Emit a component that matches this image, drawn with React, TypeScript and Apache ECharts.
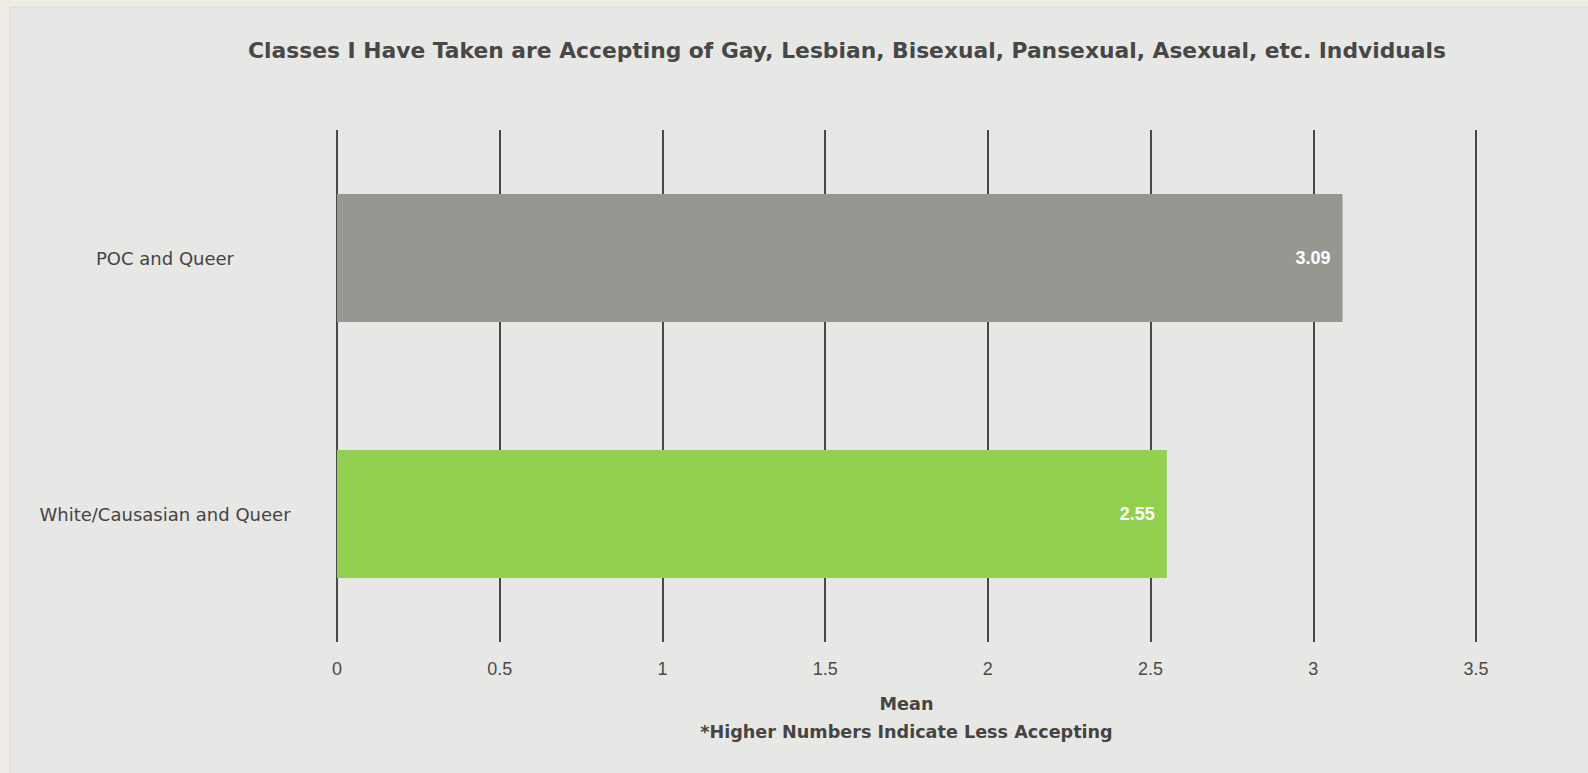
import React, { useEffect, useRef } from "react";
import * as echarts from "echarts";

const TITLE = "Classes I Have Taken are Accepting of Gay, Lesbian, Bisexual, Pansexual, Asexual, etc. Indviduals";
const categories = ["POC and Queer", "White/Causasian and Queer"];
const meanValues = [3.09, 2.55];
const barColors = ["#979792", "#92d050"];
const xTicks = { min: 0, max: 3.5, interval: 0.5 };
const axisName = "Mean\n*Higher Numbers Indicate Less Accepting";

export default function App() {
  const ref = useRef<HTMLDivElement>(null);
  useEffect(() => {
    document.body.style.margin = "0";
    document.body.style.overflow = "hidden";
    const chart = echarts.init(ref.current!, null, { renderer: "svg" });
    chart.setOption({
      animation: false,
      backgroundColor: "#efece5",
      graphic: [
        {
          type: "rect",
          z: -10,
          shape: { x: 10, y: 7, width: 1600, height: 800 },
          style: { fill: "#e7e7e5", stroke: "#d9d9d6", lineWidth: 1 },
        },
      ],
      title: {
        text: TITLE,
        left: 842,
        textAlign: "center",
        top: 34,
        textStyle: {
          fontFamily: "DejaVu Sans",
          fontWeight: "bold",
          fontSize: 21.8,
          color: "#474747",
        },
      },
      grid: { left: 337, right: 112, top: 130, bottom: 131, containLabel: false },
      xAxis: {
        type: "value",
        min: xTicks.min,
        max: xTicks.max,
        interval: xTicks.interval,
        axisLine: { show: false },
        axisTick: { show: false },
        splitLine: { show: true, lineStyle: { color: "#484848", width: 2 } },
        axisLabel: {
          margin: 18,
          fontFamily: "Liberation Sans",
          fontSize: 18,
          color: "#4a4a4a",
        },
        name: axisName,
        nameLocation: "middle",
        nameGap: 48,
        nameTextStyle: {
          fontFamily: "DejaVu Sans",
          fontWeight: "bold",
          fontSize: 17.6,
          lineHeight: 28,
          color: "#444",
        },
      },
      yAxis: {
        type: "category",
        data: categories,
        inverse: true,
        axisLine: { show: false },
        axisTick: { show: false },
        splitLine: { show: false },
        axisLabel: {
          margin: 172,
          align: "center",
          fontFamily: "DejaVu Sans",
          fontSize: 18,
          color: "#444",
        },
      },
      series: [
        {
          type: "bar",
          barWidth: "50%",
          data: meanValues.map((v, i) => ({ value: v, itemStyle: { color: barColors[i] } })),
          label: {
            show: true,
            position: "insideRight",
            distance: 12,
            fontFamily: "Liberation Sans",
            fontWeight: "bold",
            fontSize: 18,
            color: "#fff",
            formatter: (p: any) => p.value.toFixed(2),
          },
        },
      ],
    });
    return () => chart.dispose();
  }, []);
  return <div ref={ref} style={{ width: 1588, height: 773 }} />;
}
